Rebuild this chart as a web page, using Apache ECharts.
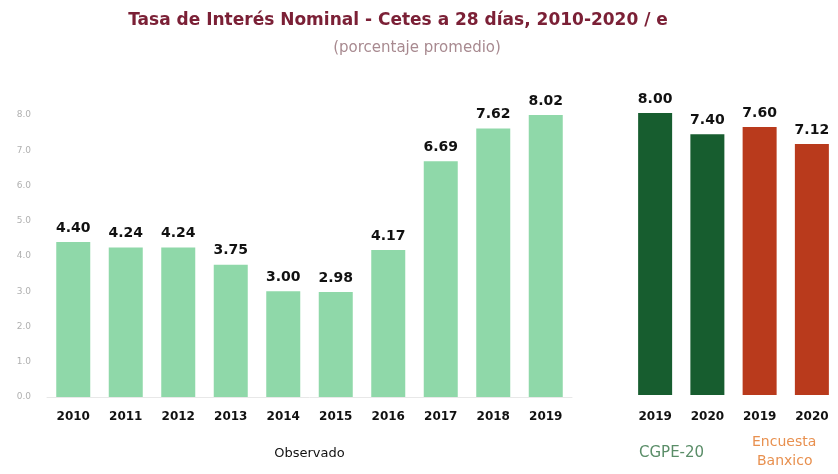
<!DOCTYPE html>
<html><head><meta charset="utf-8">
<script src="https://cdn.jsdelivr.net/npm/echarts@6/dist/echarts.min.js"></script>
<style>html,body{margin:0;padding:0;background:#fff}#c{width:838px;height:474px}</style>
</head><body><div id="c"></div>
<script>
var obsYears = ['2010','2011','2012','2013','2014','2015','2016','2017','2018','2019'];
var obsValues = [4.40, 4.24, 4.24, 3.75, 3.00, 2.98, 4.17, 6.69, 7.62, 8.02];
var estYears = ['2019','2020','2019','2020'];
var cgpeValues = [8.00, 7.40, null, null];
var banxicoValues = [null, null, 7.60, 7.12];
var yTicks = [0, 1, 2, 3, 4, 5, 6, 7, 8];

var FONT = '"DejaVu Sans", sans-serif';
var chart = echarts.init(document.getElementById('c'));
var lbl = {show:true, position:'top', distance:7, color:'#111', fontFamily:FONT, fontWeight:'bold', fontSize:14,
  formatter:function(p){return p.value==null?'':p.value.toFixed(2);}};
chart.setOption({
  animation:false,
  title:[
    {text:'Tasa de Interés Nominal - Cetes a 28 días, 2010-2020 / e', left:393, top:7, textAlign:'center',
     textStyle:{color:'#7b2036', fontFamily:FONT, fontSize:17, fontWeight:'bold'}},
    {text:'(porcentaje promedio)', left:412, top:36, textAlign:'center',
     textStyle:{color:'#a88a90', fontFamily:FONT, fontSize:15, fontWeight:'normal'}}
  ],
  grid:[
    {left:47, width:525, top:115, height:282},
    {left:629, width:209, top:113, height:282}
  ],
  xAxis:[
    {type:'category', gridIndex:0, data:obsYears, axisTick:{show:false},
     axisLine:{lineStyle:{color:'#e8e8e8'}},
     axisLabel:{color:'#111', fontFamily:FONT, fontWeight:'bold', fontSize:12, margin:14},
     name:'Observado', nameLocation:'middle', nameGap:50,
     nameTextStyle:{color:'#111', fontFamily:FONT, fontSize:13}},
    {type:'category', gridIndex:1, data:estYears, axisTick:{show:false},
     axisLine:{show:false},
     axisLabel:{color:'#111', fontFamily:FONT, fontWeight:'bold', fontSize:12, margin:16}}
  ],
  yAxis:[
    {type:'value', gridIndex:0, min:0, max:8, interval:1, splitLine:{show:false},
     axisTick:{show:false}, axisLine:{show:false},
     axisLabel:{color:'#b0b0b0', fontFamily:FONT, fontSize:9, margin:16,
       formatter:function(v){return v.toFixed(1);}}},
    {type:'value', gridIndex:1, min:0, max:8, interval:1, show:false}
  ],
  graphic:[
    {type:'text', left:639, top:446, style:{text:'CGPE-20', fill:'#5a8d68', font:'15px '+FONT}},
    {type:'text', left:752, top:435, style:{text:'Encuesta', fill:'#e8904f', font:'14px '+FONT}},
    {type:'text', left:757, top:454, style:{text:'Banxico', fill:'#e8904f', font:'14px '+FONT}}
  ],
  series:[
    {type:'bar', xAxisIndex:0, yAxisIndex:0, data:obsValues, barWidth:34,
     itemStyle:{color:'#8fd8a9'}, label:lbl},
    {type:'bar', xAxisIndex:1, yAxisIndex:1, data:cgpeValues, barWidth:34, barGap:'-100%',
     itemStyle:{color:'#175d2f'}, label:lbl},
    {type:'bar', xAxisIndex:1, yAxisIndex:1, data:banxicoValues, barWidth:34,
     itemStyle:{color:'#b93a1c'}, label:lbl}
  ]
});
</script></body></html>
